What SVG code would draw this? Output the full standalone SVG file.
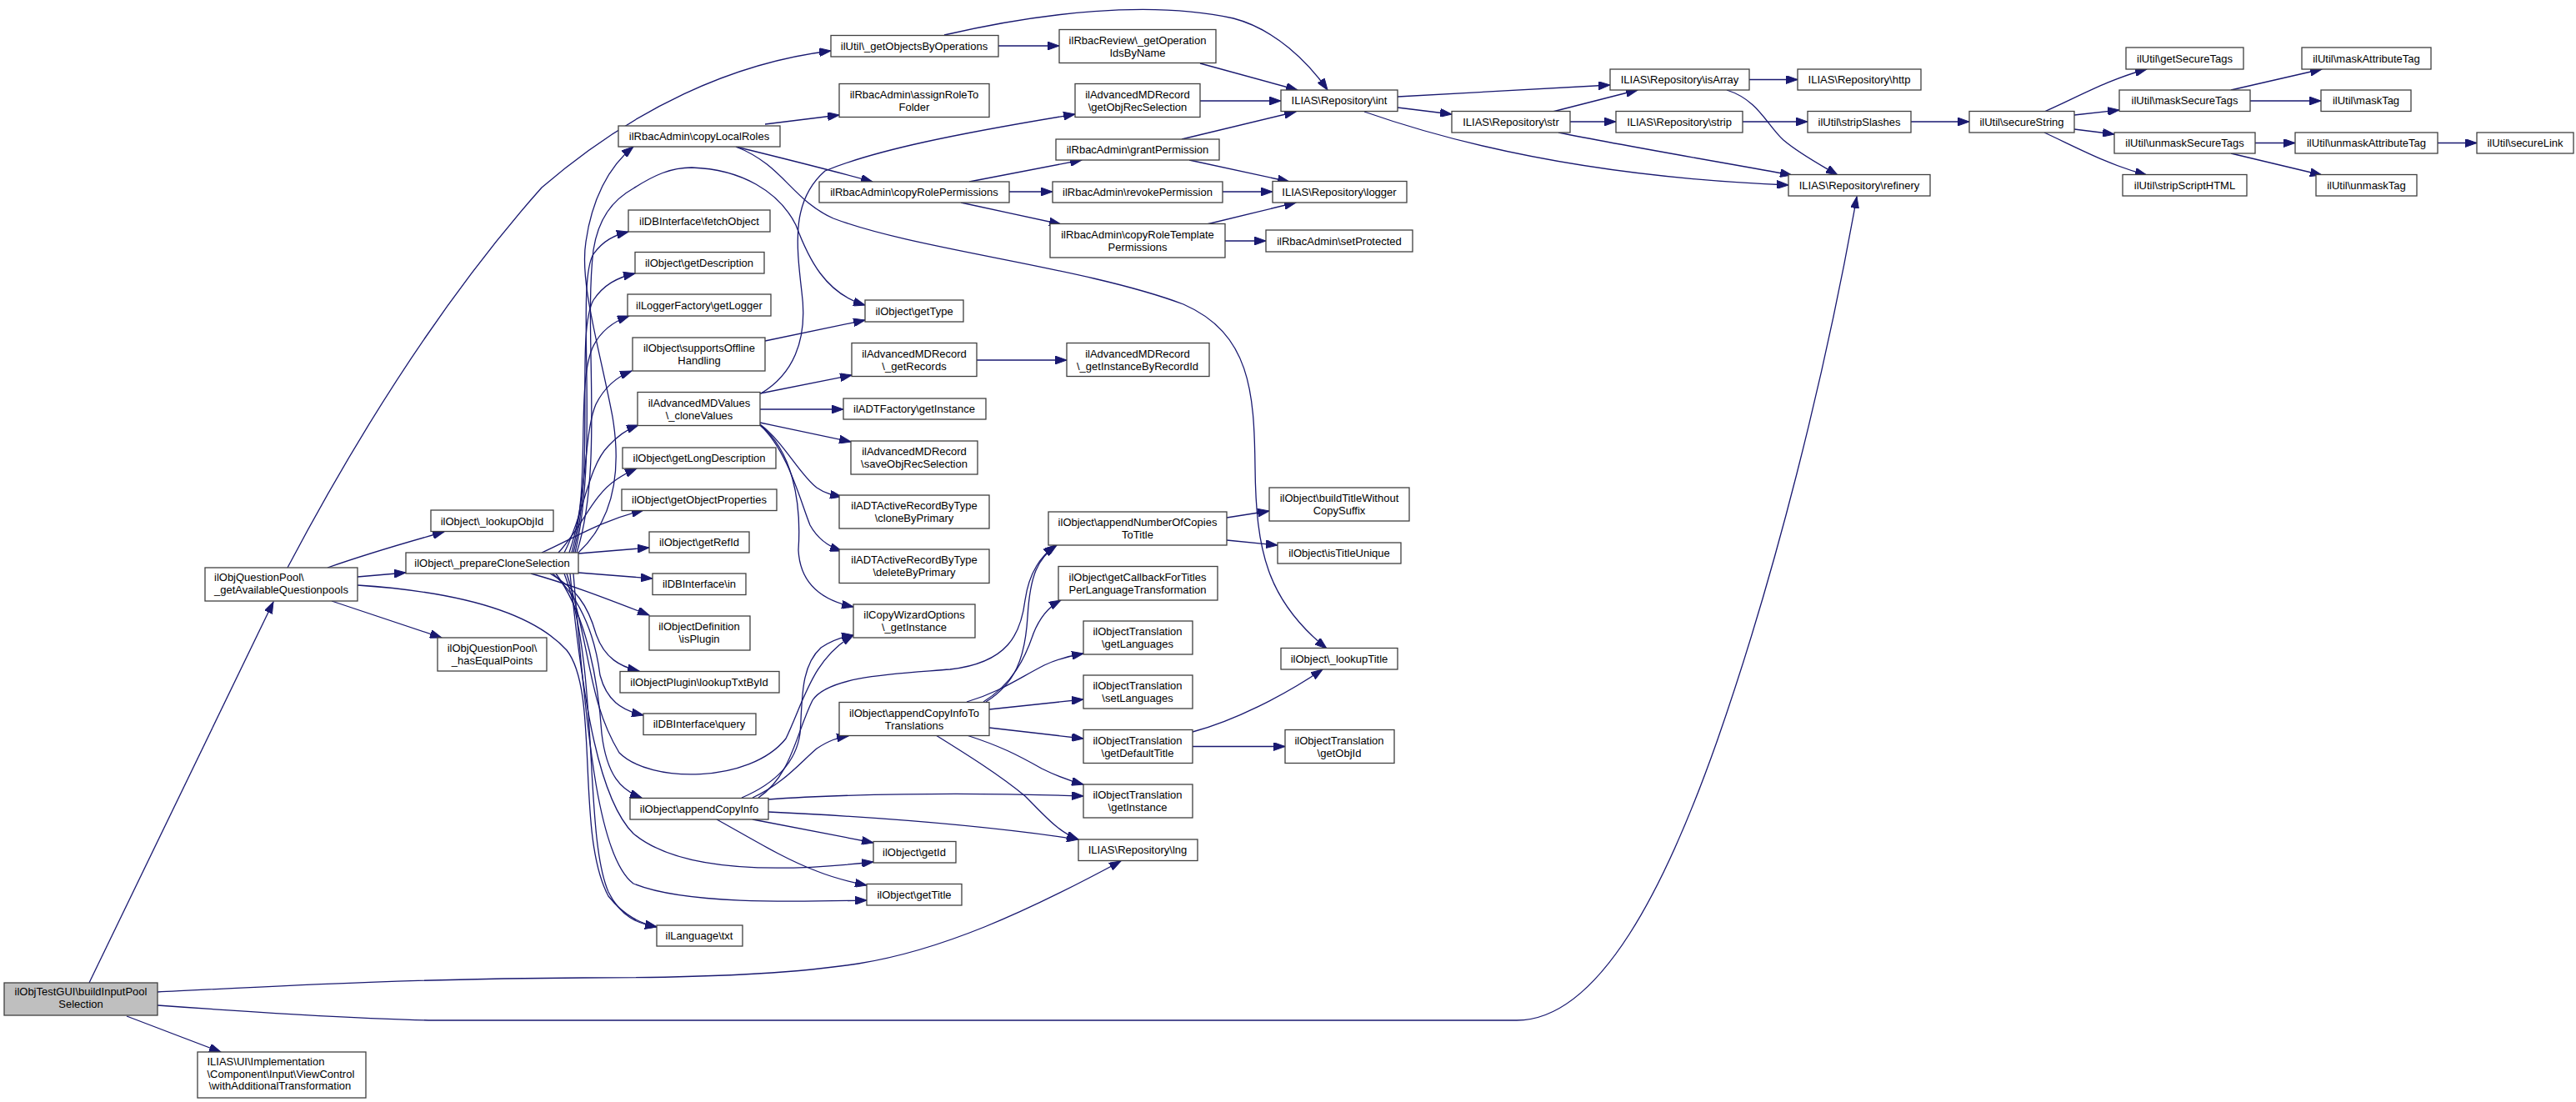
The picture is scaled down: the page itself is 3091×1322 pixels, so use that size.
<svg xmlns="http://www.w3.org/2000/svg" width="3091" height="1322" viewBox="0 0 3091 1322">
<defs>
<style>
.n rect{fill:#fff;stroke:#404040;stroke-width:1.3}
.root rect{fill:#bfbfbf}
text{font-family:"Liberation Sans",Arial,Helvetica,sans-serif;font-size:13px;fill:#000;text-anchor:middle}
.l text{text-anchor:start}
#edges path{fill:none;stroke:#191970;stroke-width:1.3;marker-end:url(#a)}
</style>
<marker id="a" markerUnits="userSpaceOnUse" markerWidth="15" markerHeight="10" refX="14" refY="5" orient="auto"><path d="M0,0 L14,5 L0,10 z" fill="#191970" stroke="#191970" stroke-width="1"/></marker>
</defs>
<rect width="3091" height="1322" fill="#fff"/>
<g id="edges">
<path d="M107,1179 L328,722"/>
<path d="M189,1190 C350,1182 500,1174 700,1173 C850,1173 950,1168 1030,1156 C1130,1140 1230,1095 1345,1033"/>
<path d="M189,1206 C300,1214 420,1222 520,1224 L1820,1224 C1920,1224 2000,1060 2060,890 C2130,690 2190,450 2228,236"/>
<path d="M152,1219 L265,1262"/>
<path d="M345,681 C430,520 530,360 650,225 C760,130 880,75 997,61"/>
<path d="M393,681 C430,668 490,650 533,638"/>
<path d="M429,692 L487,687"/>
<path d="M398,721 L530,765"/>
<path d="M429,702 C520,708 630,725 680,780 C720,830 690,1000 730,1075 C750,1100 770,1108 788,1112"/>
<path d="M650,663 C690,645 720,625 772,612"/>
<path d="M670,663 C700,630 710,595 740,575 C750,568 757,565 764,562"/>
<path d="M677,663 C700,620 705,560 730,535 C742,522 752,515 766,510"/>
<path d="M683,663 C705,600 700,520 715,485 C725,465 740,452 758,445"/>
<path d="M686,663 C710,580 690,460 712,415 C722,395 738,385 755,379"/>
<path d="M688,663 C715,560 690,400 712,360 C724,342 740,333 762,328"/>
<path d="M690,663 C720,540 690,340 712,305 C724,288 738,282 754,278"/>
<path d="M694,663 C740,620 745,560 735,500 C720,420 695,340 703,290 C710,240 730,200 760,176"/>
<path d="M692,663 C725,560 700,400 712,300 C718,262 735,240 760,226 C785,210 805,201 830,201 C890,203 935,230 955,270 C970,310 990,352 1038,366"/>
<path d="M694,664 L779,657"/>
<path d="M694,687 L783,694"/>
<path d="M637,688 C680,700 720,715 779,738"/>
<path d="M660,688 C690,705 705,725 715,760 C725,790 745,800 767,805"/>
<path d="M663,688 C700,720 715,770 720,810 C728,840 745,852 772,858"/>
<path d="M667,688 C705,740 718,820 722,880 C728,930 745,948 770,957"/>
<path d="M677,688 C720,800 700,1000 730,1070 C745,1100 765,1108 788,1112"/>
<path d="M680,688 C710,780 705,840 743,903 C780,940 900,940 943,886 C965,840 975,790 1024,762"/>
<path d="M684,688 C700,850 720,960 760,1000 C820,1050 950,1045 1048,1034"/>
<path d="M688,688 C705,900 720,1030 760,1060 C820,1085 950,1082 1040,1080"/>
<path d="M918,149 L1007,138"/>
<path d="M883,176 C940,190 1000,205 1047,218"/>
<path d="M883,176 C940,198 950,240 1000,262 C1100,300 1300,320 1420,365 C1500,400 1505,470 1506,560 C1507,660 1520,720 1592,778"/>
<path d="M918,409 L1038,384"/>
<path d="M913,472 C950,450 970,410 962,350 C955,290 950,240 990,205 C1050,180 1150,160 1290,137"/>
<path d="M912,472 L1022,450"/>
<path d="M912,491 L1012,491"/>
<path d="M912,507 L1021,530"/>
<path d="M912,509 C940,530 960,570 980,585 C990,592 1000,594 1010,596"/>
<path d="M912,510 C945,540 960,600 972,630 C982,648 995,656 1010,661"/>
<path d="M912,510 C950,540 962,600 958,660 C960,700 985,720 1024,728"/>
<path d="M1172,432 L1280,432"/>
<path d="M1198,55 L1271,55"/>
<path d="M1133,42 C1250,15 1380,0 1480,22 C1530,35 1570,75 1593,108"/>
<path d="M1440,76 L1557,108"/>
<path d="M1440,121 L1537,121"/>
<path d="M1418,167 L1555,134"/>
<path d="M1427,192 L1547,218"/>
<path d="M1163,218 L1298,192"/>
<path d="M1211,230 L1263,230"/>
<path d="M1153,243 L1273,269"/>
<path d="M1467,230 L1527,230"/>
<path d="M1448,269 L1555,243"/>
<path d="M1470,289 L1519,289"/>
<path d="M1677,116 L1932,102"/>
<path d="M1677,129 L1742,137"/>
<path d="M1637,134 C1740,170 1900,212 2146,222"/>
<path d="M1863,134 L1965,108"/>
<path d="M1884,146 L1939,146"/>
<path d="M1870,159 C1950,175 2050,192 2150,210"/>
<path d="M2099,95.5 L2157,95.5"/>
<path d="M2072,108 C2110,120 2120,150 2140,168 C2160,185 2185,198 2205,210"/>
<path d="M2091,146 L2169,146"/>
<path d="M2293,146 L2363,146"/>
<path d="M2453,134 C2490,118 2530,95 2576,83"/>
<path d="M2489,138 L2543,132"/>
<path d="M2489,155 L2537,161"/>
<path d="M2453,159 C2490,176 2530,198 2576,210"/>
<path d="M2677,108 L2786,83"/>
<path d="M2700,121 L2785,121"/>
<path d="M2706,171.5 L2754,171.5"/>
<path d="M2677,184 L2786,210"/>
<path d="M2925,171.5 L2972,171.5"/>
<path d="M1472,621 L1523,613"/>
<path d="M1472,648 L1533,654"/>
<path d="M1431,895.5 L1542,895.5"/>
<path d="M1431,878 C1480,865 1540,835 1587,803"/>
<path d="M1180,842 C1215,820 1230,790 1240,760 C1248,740 1258,728 1273,720"/>
<path d="M1160,842 C1200,830 1220,815 1253,798 C1270,790 1283,787 1300,784"/>
<path d="M1187,851 L1300,839"/>
<path d="M1187,873 L1300,886"/>
<path d="M1160,882 C1200,895 1220,905 1250,922 C1270,932 1285,937 1300,941"/>
<path d="M1123,882 C1160,905 1200,930 1230,955 C1255,980 1270,998 1294,1007"/>
<path d="M1183,842 C1218,820 1230,790 1233,740 C1236,690 1245,670 1268,654"/>
<path d="M903,957 C940,940 960,915 980,898 C995,888 1005,885 1018,883"/>
<path d="M910,957 C950,930 955,880 975,840 C995,810 1080,808 1140,803 C1210,795 1225,760 1230,720 C1235,685 1250,667 1266,654"/>
<path d="M890,957 C930,940 955,915 960,880 C963,840 960,800 985,777 C998,768 1010,764 1024,762"/>
<path d="M922,959 C1000,953 1150,950 1300,955"/>
<path d="M922,974 C1050,980 1180,990 1294,1007"/>
<path d="M903,983 L1048,1011"/>
<path d="M860,983 C900,1005 940,1030 980,1045 C1000,1053 1020,1058 1040,1062"/>
</g>
<g id="n1" class="n root"><rect x="5" y="1179" width="184" height="39"/><text x="97" y="1194">ilObjTestGUI\buildInputPool</text><text x="97" y="1209">Selection</text></g>
<g id="n2" class="n l"><rect x="246" y="681" width="183" height="40"/><text x="257" y="697">ilObjQuestionPool\</text><text x="257" y="712">_getAvailableQuestionpools</text></g>
<g id="n3" class="n l"><rect x="237" y="1262" width="202" height="55"/><text x="248.5" y="1278">ILIAS\UI\Implementation</text><text x="248.5" y="1292.5">\Component\Input\ViewControl</text><text x="250.5" y="1307">\withAdditionalTransformation</text></g>
<g id="n4" class="n"><rect x="517" y="612" width="147" height="25.5"/><text x="590.5" y="629.5">ilObject\_lookupObjId</text></g>
<g id="n5" class="n"><rect x="487" y="663" width="207" height="25"/><text x="590.5" y="680">ilObject\_prepareCloneSelection</text></g>
<g id="n6" class="n"><rect x="525" y="765" width="131" height="40"/><text x="590.5" y="782">ilObjQuestionPool\</text><text x="590.5" y="797">_hasEqualPoints</text></g>
<g id="n7" class="n"><rect x="742" y="151" width="194" height="25"/><text x="839" y="168">ilRbacAdmin\copyLocalRoles</text></g>
<g id="n8" class="n"><rect x="754" y="252" width="170" height="26"/><text x="839" y="269.5">ilDBInterface\fetchObject</text></g>
<g id="n9" class="n"><rect x="762" y="302.5" width="155" height="25.5"/><text x="839" y="320">ilObject\getDescription</text></g>
<g id="n10" class="n"><rect x="753" y="353" width="172" height="26"/><text x="839" y="370.5">ilLoggerFactory\getLogger</text></g>
<g id="n11" class="n"><rect x="759" y="405" width="159" height="40"/><text x="839" y="422">ilObject\supportsOffline</text><text x="839" y="437">Handling</text></g>
<g id="n12" class="n"><rect x="765" y="470.5" width="147" height="40"/><text x="839" y="487.5">ilAdvancedMDValues</text><text x="839" y="502.5">\_cloneValues</text></g>
<g id="n13" class="n"><rect x="747" y="537" width="184" height="25"/><text x="839" y="554">ilObject\getLongDescription</text></g>
<g id="n14" class="n"><rect x="746" y="587" width="186" height="25.5"/><text x="839" y="604">ilObject\getObjectProperties</text></g>
<g id="n15" class="n"><rect x="779" y="638" width="120" height="25"/><text x="839" y="655">ilObject\getRefId</text></g>
<g id="n16" class="n"><rect x="783" y="688" width="112" height="25.5"/><text x="839" y="705">ilDBInterface\in</text></g>
<g id="n17" class="n"><rect x="779" y="739" width="121" height="41"/><text x="839" y="756">ilObjectDefinition</text><text x="839" y="771">\isPlugin</text></g>
<g id="n18" class="n"><rect x="744" y="805.5" width="191" height="25.5"/><text x="839" y="822.5">ilObjectPlugin\lookupTxtById</text></g>
<g id="n19" class="n"><rect x="772" y="856" width="135" height="25.5"/><text x="839" y="873">ilDBInterface\query</text></g>
<g id="n20" class="n"><rect x="756" y="957.5" width="166" height="25.5"/><text x="839" y="974.5">ilObject\appendCopyInfo</text></g>
<g id="n21" class="n"><rect x="788" y="1110" width="103" height="25"/><text x="839" y="1127">ilLanguage\txt</text></g>
<g id="n22" class="n"><rect x="997" y="42.5" width="201" height="25.5"/><text x="1097" y="59.5">ilUtil\_getObjectsByOperations</text></g>
<g id="n23" class="n"><rect x="1007" y="100.5" width="180" height="40"/><text x="1097" y="117.5">ilRbacAdmin\assignRoleTo</text><text x="1097" y="132.5">Folder</text></g>
<g id="n24" class="n"><rect x="983" y="218" width="228" height="25"/><text x="1097" y="235">ilRbacAdmin\copyRolePermissions</text></g>
<g id="n25" class="n"><rect x="1038" y="360" width="118" height="26"/><text x="1097" y="377.5">ilObject\getType</text></g>
<g id="n26" class="n"><rect x="1022" y="411.5" width="150" height="40"/><text x="1097" y="428.5">ilAdvancedMDRecord</text><text x="1097" y="443.5">\_getRecords</text></g>
<g id="n27" class="n"><rect x="1012" y="478" width="171" height="25"/><text x="1097" y="495">ilADTFactory\getInstance</text></g>
<g id="n28" class="n"><rect x="1021" y="529" width="152" height="40"/><text x="1097" y="546">ilAdvancedMDRecord</text><text x="1097" y="561">\saveObjRecSelection</text></g>
<g id="n29" class="n"><rect x="1007" y="594" width="180" height="40"/><text x="1097" y="611">ilADTActiveRecordByType</text><text x="1097" y="626">\cloneByPrimary</text></g>
<g id="n30" class="n"><rect x="1007" y="659" width="180" height="40.5"/><text x="1097" y="676">ilADTActiveRecordByType</text><text x="1097" y="691">\deleteByPrimary</text></g>
<g id="n31" class="n"><rect x="1024" y="725" width="146" height="40"/><text x="1097" y="742">ilCopyWizardOptions</text><text x="1097" y="757">\_getInstance</text></g>
<g id="n32" class="n"><rect x="1007" y="842.5" width="180" height="40"/><text x="1097" y="859.5">ilObject\appendCopyInfoTo</text><text x="1097" y="874.5">Translations</text></g>
<g id="n33" class="n"><rect x="1048" y="1009.5" width="99" height="25.5"/><text x="1097" y="1026.5">ilObject\getId</text></g>
<g id="n34" class="n"><rect x="1040" y="1060.5" width="114" height="25.5"/><text x="1097" y="1077.5">ilObject\getTitle</text></g>
<g id="n35" class="n"><rect x="1271" y="35.5" width="188" height="40"/><text x="1365" y="52.5">ilRbacReview\_getOperation</text><text x="1365" y="67.5">IdsByName</text></g>
<g id="n36" class="n"><rect x="1290" y="100.5" width="150" height="40"/><text x="1365" y="117.5">ilAdvancedMDRecord</text><text x="1365" y="132.5">\getObjRecSelection</text></g>
<g id="n37" class="n"><rect x="1267" y="167" width="196" height="25"/><text x="1365" y="184">ilRbacAdmin\grantPermission</text></g>
<g id="n38" class="n"><rect x="1263" y="218" width="204" height="25"/><text x="1365" y="235">ilRbacAdmin\revokePermission</text></g>
<g id="n39" class="n"><rect x="1260" y="268.5" width="210" height="40.5"/><text x="1365" y="285.5">ilRbacAdmin\copyRoleTemplate</text><text x="1365" y="300.5">Permissions</text></g>
<g id="n40" class="n"><rect x="1280" y="411.5" width="171" height="40"/><text x="1365" y="428.5">ilAdvancedMDRecord</text><text x="1365" y="443.5">\_getInstanceByRecordId</text></g>
<g id="n41" class="n"><rect x="1258" y="614" width="214" height="40"/><text x="1365" y="631">ilObject\appendNumberOfCopies</text><text x="1365" y="646">ToTitle</text></g>
<g id="n42" class="n"><rect x="1270" y="679.5" width="191" height="40.5"/><text x="1365" y="696.5">ilObject\getCallbackForTitles</text><text x="1365" y="711.5">PerLanguageTransformation</text></g>
<g id="n43" class="n"><rect x="1300" y="745" width="131" height="40"/><text x="1365" y="762">ilObjectTranslation</text><text x="1365" y="777">\getLanguages</text></g>
<g id="n44" class="n"><rect x="1300" y="810" width="131" height="40"/><text x="1365" y="827">ilObjectTranslation</text><text x="1365" y="842">\setLanguages</text></g>
<g id="n45" class="n"><rect x="1300" y="875.5" width="131" height="40"/><text x="1365" y="892.5">ilObjectTranslation</text><text x="1365" y="907.5">\getDefaultTitle</text></g>
<g id="n46" class="n"><rect x="1300" y="941" width="131" height="40"/><text x="1365" y="958">ilObjectTranslation</text><text x="1365" y="973">\getInstance</text></g>
<g id="n47" class="n"><rect x="1294" y="1007" width="143" height="25.5"/><text x="1365" y="1024">ILIAS\Repository\lng</text></g>
<g id="n48" class="n"><rect x="1537" y="108" width="140" height="25.5"/><text x="1607" y="125">ILIAS\Repository\int</text></g>
<g id="n49" class="n"><rect x="1527" y="217.5" width="161" height="25.5"/><text x="1607" y="234.5">ILIAS\Repository\logger</text></g>
<g id="n50" class="n"><rect x="1519" y="276" width="176" height="26"/><text x="1607" y="293.5">ilRbacAdmin\setProtected</text></g>
<g id="n51" class="n"><rect x="1523" y="585" width="168" height="40"/><text x="1607" y="602">ilObject\buildTitleWithout</text><text x="1607" y="617">CopySuffix</text></g>
<g id="n52" class="n"><rect x="1533" y="651" width="148" height="25"/><text x="1607" y="668">ilObject\isTitleUnique</text></g>
<g id="n53" class="n"><rect x="1537" y="777.5" width="140" height="25.5"/><text x="1607" y="794.5">ilObject\_lookupTitle</text></g>
<g id="n54" class="n"><rect x="1542" y="875.5" width="131" height="40"/><text x="1607" y="892.5">ilObjectTranslation</text><text x="1607" y="907.5">\getObjId</text></g>
<g id="n55" class="n"><rect x="1742" y="133.5" width="142" height="25.5"/><text x="1813" y="150.5">ILIAS\Repository\str</text></g>
<g id="n56" class="n"><rect x="1932" y="83" width="167" height="25"/><text x="2015.5" y="100">ILIAS\Repository\isArray</text></g>
<g id="n57" class="n"><rect x="1939" y="133.5" width="152" height="25.5"/><text x="2015" y="150.5">ILIAS\Repository\strip</text></g>
<g id="n58" class="n"><rect x="2157" y="83" width="148" height="25"/><text x="2231" y="100">ILIAS\Repository\http</text></g>
<g id="n59" class="n"><rect x="2169" y="133.5" width="124" height="25.5"/><text x="2231" y="150.5">ilUtil\stripSlashes</text></g>
<g id="n60" class="n"><rect x="2146" y="209.5" width="170" height="25.5"/><text x="2231" y="226.5">ILIAS\Repository\refinery</text></g>
<g id="n61" class="n"><rect x="2363" y="133.5" width="126" height="25.5"/><text x="2426" y="150.5">ilUtil\secureString</text></g>
<g id="n62" class="n"><rect x="2551" y="57" width="141" height="26"/><text x="2621.5" y="74.5">ilUtil\getSecureTags</text></g>
<g id="n63" class="n"><rect x="2543" y="108" width="157" height="25.5"/><text x="2621.5" y="125">ilUtil\maskSecureTags</text></g>
<g id="n64" class="n"><rect x="2537" y="159" width="169" height="25"/><text x="2621.5" y="176">ilUtil\unmaskSecureTags</text></g>
<g id="n65" class="n"><rect x="2547" y="209.5" width="149" height="25.5"/><text x="2621.5" y="226.5">ilUtil\stripScriptHTML</text></g>
<g id="n66" class="n"><rect x="2762" y="57" width="155" height="26"/><text x="2839.5" y="74.5">ilUtil\maskAttributeTag</text></g>
<g id="n67" class="n"><rect x="2785" y="108" width="108" height="25.5"/><text x="2839" y="125">ilUtil\maskTag</text></g>
<g id="n68" class="n"><rect x="2754" y="159" width="171" height="25"/><text x="2839.5" y="176">ilUtil\unmaskAttributeTag</text></g>
<g id="n69" class="n"><rect x="2779" y="209.5" width="121" height="25.5"/><text x="2839.5" y="226.5">ilUtil\unmaskTag</text></g>
<g id="n70" class="n"><rect x="2972" y="159" width="116" height="25"/><text x="3030" y="176">ilUtil\secureLink</text></g>
</svg>
